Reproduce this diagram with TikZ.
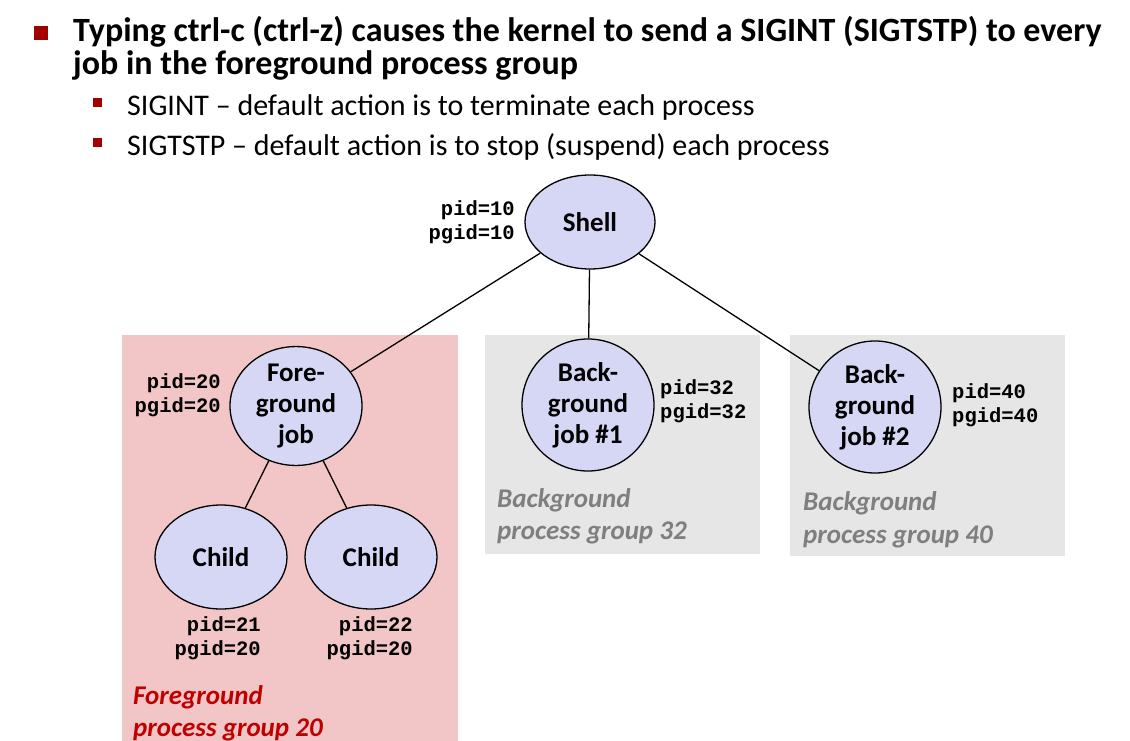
\documentclass[tikz,border=0pt]{standalone}
\usepackage{fontspec}
\setmainfont{Carlito}
\setmonofont{Liberation Mono}
\usepackage{xcolor}
\usetikzlibrary{shapes.geometric,positioning}

\definecolor{procfill}{HTML}{D6D6F5}
\definecolor{fgbox}{HTML}{F2C6C6}
\definecolor{bgbox}{HTML}{E6E6E6}
\definecolor{fgred}{HTML}{C00000}
\definecolor{bggray}{HTML}{7F7F7F}
\definecolor{bulletred}{HTML}{A00000}

\tikzset{
  proc/.style={draw=black,line width=1.3pt,fill=procfill,ellipse,inner sep=0pt,align=center,
    font=\fontsize{27}{31}\selectfont\bfseries},
  idlabel/.style={font=\fontsize{20.5}{24}\selectfont\ttfamily\bfseries,inner sep=0pt},
  grouplabel/.style={font=\fontsize{27}{32}\selectfont\bfseries\itshape,inner sep=0pt,align=left,anchor=north west},
  link/.style={draw=black,line width=1.3pt}
}

\begin{document}
\begin{tikzpicture}[x=1pt,y=-1pt]
  \useasboundingbox (0,0) rectangle (1130,741);

  % bullets and text
  \fill[bulletred] (34,26) rectangle (48,40);
  \node[anchor=base west,inner sep=0pt,font=\fontsize{34}{34}\selectfont\bfseries] (titleA) at (73,42)
    {Typing ctrl-c (ctrl-z) causes the kernel to send a SIGINT (SIGTSTP) to every};
  \node[anchor=base west,inner sep=0pt,font=\fontsize{34}{34}\selectfont\bfseries] (titleB) at (73,75)
    {job in the foreground process group};
  \fill[bulletred] (93,98) rectangle (102,107);
  \node[anchor=base west,inner sep=0pt,font=\fontsize{30}{30}\selectfont] (subA) at (127,116)
    {SIGINT -- default action is to terminate each process};
  \fill[bulletred] (93,138) rectangle (102,147);
  \node[anchor=base west,inner sep=0pt,font=\fontsize{30}{30}\selectfont] (subB) at (127,156)
    {SIGTSTP -- default action is to stop (suspend) each process};

  % process group boxes
  \fill[fgbox] (122,335) rectangle (458,741);
  \fill[bgbox] (485,335) rectangle (760,554);
  \fill[bgbox] (790,335) rectangle (1065,556);

  % processes
  \node[proc,minimum width=130pt,minimum height=94pt] (shell) at (590,222) {Shell};
  \node[proc,minimum width=132pt,minimum height=118pt] (fg) at (296,406) {Fore-\\ground\\job};
  \node[proc,circle,minimum size=132pt] (bgA) at (588,405) {Back-\\ground\\job \#1};
  \node[proc,circle,minimum size=132pt] (bgB) at (875,407) {Back-\\ground\\job \#2};
  \node[proc,minimum width=132pt,minimum height=104pt] (childA) at (221,557) {Child};
  \node[proc,minimum width=132pt,minimum height=104pt] (childB) at (371,557) {Child};

  % links
  \draw[link] (shell) -- (fg);
  \draw[link] (shell) -- (bgA);
  \draw[link] (shell) -- (bgB);
  \draw[link] (fg) -- (childA);
  \draw[link] (fg) -- (childB);

  % ids
  \node[idlabel,align=right,anchor=east] (shellid) at (515,222) {pid=10\\pgid=10};
  \node[idlabel,align=right,anchor=east] (fgid) at (221,395) {pid=20\\pgid=20};
  \node[idlabel,align=left,anchor=west] (bgAid) at (660,401) {pid=32\\pgid=32};
  \node[idlabel,align=left,anchor=west] (bgBid) at (952,405) {pid=40\\pgid=40};
  \node[idlabel,align=right,anchor=east] (childAid) at (261,638) {pid=21\\pgid=20};
  \node[idlabel,align=right,anchor=east] (childBid) at (413,638) {pid=22\\pgid=20};

  % group labels
  \node[grouplabel,text=fgred] (fglabel) at (133,685) {Foreground\\process group 20};
  \node[grouplabel,text=bggray] (bgAlabel) at (497,488) {Background\\process group 32};
  \node[grouplabel,text=bggray,font=\fontsize{27}{33}\selectfont\bfseries\itshape] (bgBlabel) at (803,491) {Background\\process group 40};
\end{tikzpicture}
\end{document}
